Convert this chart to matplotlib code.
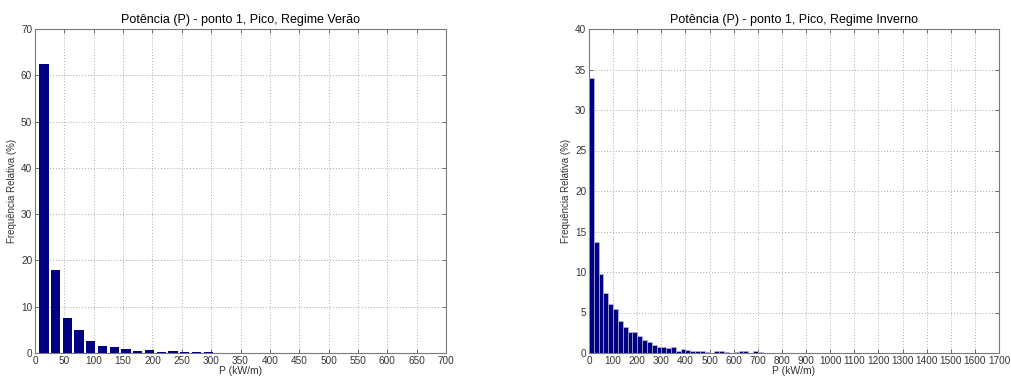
import matplotlib
matplotlib.use("Agg")
import matplotlib.pyplot as plt
import numpy as np

plt.rcParams['font.family'] = ['Liberation Sans', 'DejaVu Sans']

# Summer (Verão) histogram: bin centers and relative frequency (%)
verao_centers = [15, 35, 55, 75, 95, 115, 135, 155, 175, 195, 215, 235, 255, 275, 295,
                 315, 335, 355, 375, 395, 415, 435, 455, 475, 495]
verao_freq = [62.5, 18.0, 7.5, 5.0, 2.7, 1.5, 1.4, 0.8, 0.4, 0.6, 0.25, 0.35, 0.25, 0.15, 0.25,
              0.0, 0.0, 0.1, 0.1, 0.1, 0.1, 0.1, 0.0, 0.0, 0.1]

# Winter (Inverno) histogram
inverno_centers = [10, 30, 50, 70, 90, 110, 130, 150, 170, 190, 210, 230, 250, 270, 290,
                   310, 330, 350, 370, 390, 410, 430, 450, 470, 490, 510, 530, 550, 570, 590,
                   610, 630, 650, 670, 690, 710, 730, 750, 770, 790, 810, 830, 850]
inverno_freq = [34.0, 13.7, 9.8, 7.4, 6.0, 5.4, 3.9, 3.2, 2.6, 2.6, 2.1, 1.6, 1.4, 1.0, 0.8,
                0.7, 0.6, 0.7, 0.2, 0.55, 0.4, 0.2, 0.2, 0.2, 0.15, 0.05, 0.2, 0.2, 0.15, 0.05,
                0.1, 0.2, 0.2, 0.05, 0.2, 0.1, 0.05, 0.0, 0.0, 0.05, 0.05, 0.05, 0.05]

titles = ["Potência (P) - ponto 1, Pico, Regime Verão",
          "Potência (P) - ponto 1, Pico, Regime Inverno"]
xlabel = "P (kW/m)"
ylabel = "Frequência Relativa (%)"

W, H = 1011, 379
fig = plt.figure(figsize=(W / 100, H / 100), dpi=100)

bar_color = '#000080'


def style(ax, xmax, xstep, ymax, ystep):
    ax.set_xlim(0, xmax)
    ax.set_ylim(0, ymax)
    ax.set_xticks(np.arange(0, xmax + 1, xstep))
    ax.set_yticks(np.arange(0, ymax + 1, ystep))
    ax.grid(True, linestyle=(0, (1, 2)), color='#a8a8a8', linewidth=0.7)
    ax.set_axisbelow(True)
    for s in ax.spines.values():
        s.set_color('#7a7a7a')
        s.set_linewidth(0.8)
    ax.tick_params(direction='in', length=3, width=0.6, colors='#555555',
                   labelcolor='#333333', labelsize=7.2, top=True, right=True, pad=2)
    ax.set_xlabel(xlabel, fontsize=7.5, labelpad=0, color='#333333')
    ax.set_ylabel(ylabel, fontsize=7, labelpad=3, color='#333333')


ax1 = fig.add_axes([35 / W, (H - 353) / H, 411 / W, 324 / H])
ax1.bar(verao_centers, verao_freq, width=16, color=bar_color, edgecolor='none', zorder=3)
style(ax1, 700, 50, 70, 10)
ax1.set_title(titles[0], fontsize=9, pad=4)

ax2 = fig.add_axes([589 / W, (H - 353) / H, 410 / W, 324 / H])
ax2.bar(inverno_centers, inverno_freq, width=20, color=bar_color, edgecolor='#c8c8e0',
        linewidth=0.4, zorder=3)
style(ax2, 1700, 100, 40, 5)
ax2.set_title(titles[1], fontsize=9, pad=4)

fig.savefig("out.png", dpi=100)
